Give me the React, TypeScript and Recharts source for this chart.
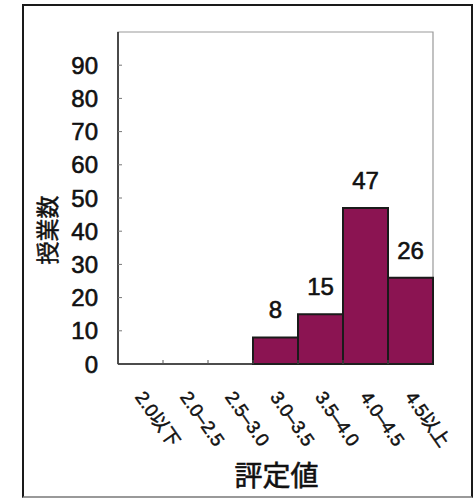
import { BarChart, Bar, XAxis, YAxis, LabelList, ReferenceArea } from 'recharts'

// 評定値ごとの授業数
const categories = ['2.0以下', '2.0–2.5', '2.5–3.0', '3.0–3.5', '3.5–4.0', '4.0–4.5', '4.5以上']
const counts = [0, 0, 0, 8, 15, 47, 26]
const yTicks = [0, 10, 20, 30, 40, 50, 60, 70, 80, 90]

const data = categories.map((range, i) => ({ range, count: counts[i] }))

const FONT = "'Liberation Sans', Arial, 'Noto Sans CJK JP', sans-serif"
const INK = '#111'

function YTick(props: any) {
  const { x, y, payload } = props
  return (
    <g>
      {payload.value !== 0 && <line x1={x} x2={x + 4} y1={y} y2={y} stroke="#777" />}
      <text x={x - 20} y={y} dy="0.36em" textAnchor="end" fontSize={24} fill={INK} stroke={INK} strokeWidth={0.6} fontFamily={FONT}>
        {payload.value}
      </text>
    </g>
  )
}

function XTick(props: any) {
  const { x, y, payload } = props
  const half = payload.offset ?? 22.5
  const tx = x - 6
  const ty = y + 33
  return (
    <g>
      <line x1={x - half} x2={x - half} y1={y} y2={y - 4} stroke="#555" />
      <text
        x={tx}
        y={ty}
        textAnchor="start"
        fontSize={18.5}
        fill={INK}
        stroke={INK}
        strokeWidth={0.5}
        fontFamily={FONT}
        transform={`rotate(55, ${tx}, ${ty})`}
      >
        {payload.value}
      </text>
    </g>
  )
}

export default function App() {
  return (
    <div style={{ position: 'absolute', left: 0, top: 0, width: 475, height: 500, background: '#fff', fontFamily: FONT }}>
      <div
        style={{
          position: 'absolute',
          left: 22,
          top: 4,
          width: 451,
          height: 494,
          border: '2px solid #1a1a1a',
          borderBottomColor: '#999',
          boxSizing: 'border-box',
        }}
      />
      <div style={{ position: 'absolute', left: 0, top: 0 }}>
        <BarChart
          width={475}
          height={500}
          data={data}
          margin={{ top: 32, right: 42, bottom: 0, left: 0 }}
          barCategoryGap={0}
        >
          <ReferenceArea y1={0} y2={100} fill="none" stroke="#999" strokeWidth={1.2} ifOverflow="visible" />
          <XAxis
            dataKey="range"
            height={136}
            interval={0}
            tickSize={0}
            tickMargin={0}
            tickLine={false}
            axisLine={{ stroke: '#222', strokeWidth: 1.5 }}
            tick={<XTick />}
            label={{
              content: (p: any) => {
                const vb = p.viewBox
                return (
                  <text
                    x={vb.x + vb.width / 2 + 1}
                    y={vb.y + vb.height - 14}
                    textAnchor="middle"
                    fontSize={28}
                    fill={INK}
                    stroke={INK}
                    strokeWidth={0.6}
                    fontFamily={FONT}
                  >
                    評定値
                  </text>
                )
              },
            }}
          />
          <YAxis
            width={118}
            domain={[0, 100]}
            ticks={yTicks}
            interval={0}
            tickSize={0}
            tickMargin={0}
            tickLine={false}
            axisLine={{ stroke: '#222', strokeWidth: 1.5 }}
            tick={<YTick />}
            label={{
              content: (p: any) => {
                const vb = p.viewBox
                const cx = vb.x + 48
                const cy = vb.y + vb.height / 2 + 32
                return (
                  <text
                    x={cx}
                    y={cy}
                    dy="0.36em"
                    textAnchor="middle"
                    fontSize={23}
                    fill={INK}
                    stroke={INK}
                    strokeWidth={0.5}
                    fontFamily={FONT}
                    transform={`rotate(-90, ${cx}, ${cy})`}
                  >
                    授業数
                  </text>
                )
              },
            }}
          />
          <Bar dataKey="count" fill="#8B1452" stroke="#1a1a1a" strokeWidth={2} isAnimationActive={false}>
            <LabelList
              dataKey="count"
              position="top"
              offset={19}
              fontSize={24}
              fill={INK}
              stroke={INK}
              strokeWidth={0.6}
              fontFamily={FONT}
              formatter={(v: any) => (v ? v : '')}
            />
          </Bar>
        </BarChart>
      </div>
    </div>
  )
}
